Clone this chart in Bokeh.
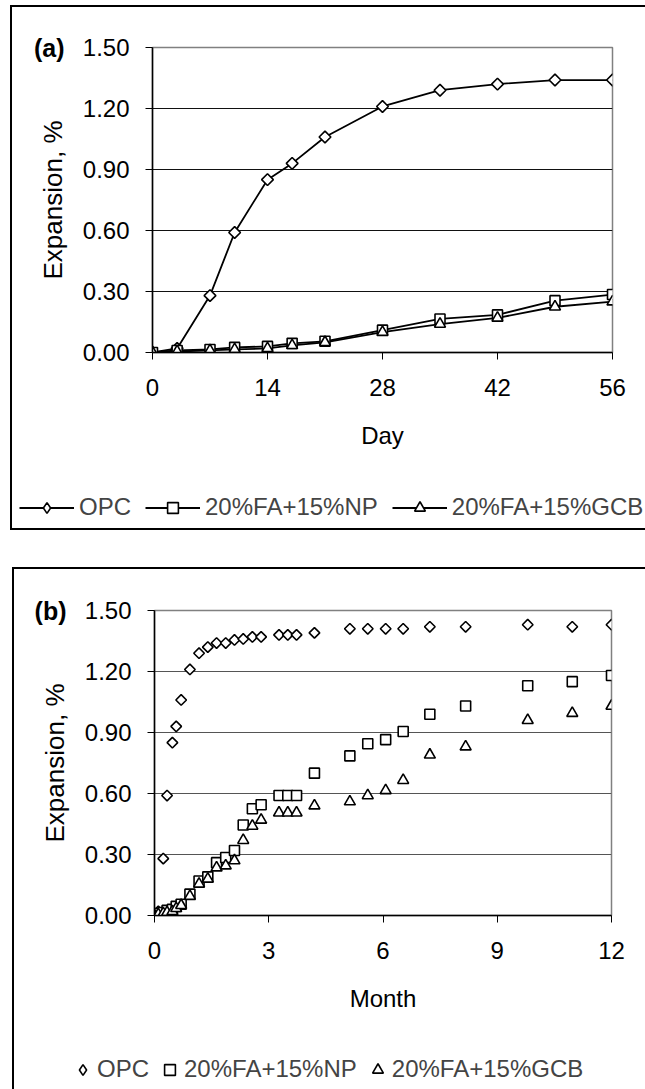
import numpy as np
from bokeh.plotting import figure
from bokeh.models import (Range1d, FixedTicker, NumeralTickFormatter, Legend, LegendItem,
                          LinearAxis)
from bokeh.layouts import column
from bokeh.embed import file_html
from bokeh.resources import INLINE

# ---------------- data ----------------
series_names = ["OPC", "20%FA+15%NP", "20%FA+15%GCB"]
panel_tags = ["(a)", "(b)"]

# Panel (a): expansion vs day
days = [0, 3, 7, 10, 14, 17, 21, 28, 35, 42, 49, 56]
opc_a = [0.00, 0.02, 0.28, 0.59, 0.85, 0.93, 1.06, 1.21, 1.29, 1.32, 1.34, 1.34]
np_a = [0.00, 0.010, 0.015, 0.025, 0.030, 0.045, 0.055, 0.110, 0.165, 0.185, 0.255, 0.285]
gcb_a = [0.00, 0.005, 0.010, 0.015, 0.020, 0.035, 0.050, 0.100, 0.140, 0.170, 0.225, 0.250]

# Panel (b): expansion vs month
months = [0, 0.10, 0.23, 0.33, 0.47, 0.57, 0.70, 0.93, 1.17, 1.40, 1.63, 1.87, 2.10, 2.33,
          2.57, 2.80, 3.27, 3.50, 3.73, 4.20, 5.13, 5.60, 6.07, 6.53, 7.23, 8.17, 9.80,
          10.97, 12.00]
opc_b = [0.00, 0.02, 0.28, 0.59, 0.85, 0.93, 1.06, 1.21, 1.29, 1.32, 1.34, 1.34, 1.355, 1.36,
         1.37, 1.37, 1.38, 1.38, 1.38, 1.39, 1.41, 1.41, 1.41, 1.41, 1.42, 1.42, 1.43,
         1.42, 1.43]
np_b = [0.00, 0.010, 0.015, 0.025, 0.030, 0.045, 0.055, 0.105, 0.170, 0.190, 0.260, 0.285,
        0.320, 0.445, 0.525, 0.545, 0.590, 0.590, 0.590, 0.700, 0.785, 0.845, 0.865, 0.905,
        0.990, 1.030, 1.130, 1.150, 1.180]
gcb_b = [0.00, 0.005, 0.010, 0.015, 0.020, 0.035, 0.050, 0.095, 0.155, 0.180, 0.235, 0.245,
         0.270, 0.370, 0.440, 0.470, 0.505, 0.505, 0.505, 0.540, 0.560, 0.590, 0.615, 0.665,
         0.790, 0.830, 0.960, 0.995, 1.030]

y_ticks = [0, 0.3, 0.6, 0.9, 1.2, 1.5]
x_ticks_a = [0, 14, 28, 42, 56]
x_ticks_b = [0, 3, 6, 9, 12]

FONT = "Liberation Sans"
FS = "24px"


def style(p, xticks, xlabel, grid_color):
    p.xaxis.ticker = FixedTicker(ticks=xticks, minor_ticks=[])
    p.yaxis.ticker = FixedTicker(ticks=y_ticks, minor_ticks=[])
    p.yaxis.formatter = NumeralTickFormatter(format="0.00")
    p.xgrid.visible = False
    p.ygrid.grid_line_color = grid_color
    p.ygrid.grid_line_width = 1
    p.xaxis.axis_label = xlabel
    p.yaxis.axis_label = "Expansion, %"
    for ax in (p.xaxis, p.yaxis):
        ax.axis_line_color = "black"
        ax.axis_line_width = 1.5
        ax.major_tick_line_color = "black"
        ax.major_tick_out = 7
        ax.major_tick_in = 0
        ax.minor_tick_line_color = None
        ax.major_label_text_font = FONT
        ax.major_label_text_font_size = FS
        ax.major_label_text_color = "black"
        ax.axis_label_text_font = FONT
        ax.axis_label_text_font_style = "normal"
        ax.axis_label_text_color = "black"
    p.xaxis.major_label_standoff = 19
    p.yaxis.major_label_standoff = 16
    p.xaxis.axis_label_text_font_size = FS
    p.yaxis.axis_label_text_font_size = "26px"
    p.xaxis.axis_label_standoff = 23
    p.yaxis.axis_label_standoff = 12
    p.outline_line_color = "#808080"
    p.outline_line_width = 1.5
    p.background_fill_color = "white"
    p.border_fill_alpha = 0


def add_tag(p, text, standoff):
    tag = LinearAxis(ticker=FixedTicker(ticks=[1.5], minor_ticks=[]),
                     major_label_overrides={1.5: text},
                     axis_line_color=None, major_tick_line_color=None,
                     minor_tick_line_color=None, major_tick_out=0, major_tick_in=0,
                     major_label_standoff=standoff,
                     major_label_text_font=FONT, major_label_text_font_size="25px",
                     major_label_text_font_style="bold", major_label_text_color="black")
    p.add_layout(tag, "left")


def legend_fig(height, shadow):
    # legend strip: its ranges lie far from the data, so only the legend shows
    f = figure(width=645, height=height, x_range=Range1d(100, 101), y_range=Range1d(100, 101),
               x_axis_location=None, y_axis_location=None, output_backend="svg",
               toolbar_location=None, min_border=0, outline_line_color=None,
               frame_align=False,
               styles={"box-shadow": shadow, "background-color": "white"})
    f.background_fill_alpha = 0
    f.border_fill_alpha = 0
    f.grid.visible = False
    return f


line_kw = dict(line_color="black", line_width=1.8)
mark_kw = dict(line_color="black", line_width=1.6, fill_color="white")

# ---------------- panel (a) ----------------
pa = figure(width=645, height=480, x_range=Range1d(0, 56), y_range=Range1d(0, 1.5),
            output_backend="svg", toolbar_location=None, frame_align=False,
            min_border_left=152, min_border_right=33, min_border_top=47, min_border_bottom=128,
            styles={"box-shadow": "inset 10px 0 0 0 white, inset 0 5px 0 0 white, "
                                  "inset 12px 0 0 0 black, inset 0 7px 0 0 black",
                    "background-color": "white"})
style(pa, x_ticks_a, "Day", "#111111")
add_tag(pa, panel_tags[0], -30)

pa.line(days, opc_a, **line_kw)
pa.line(days, np_a, **line_kw)
pa.line(days, gcb_a, **line_kw)
pa.scatter(days, opc_a, marker="square", angle=np.pi / 4, size=8.3, **mark_kw)
pa.scatter(days, np_a, marker="square", size=10, **mark_kw)
pa.scatter(days, gcb_a, marker="triangle", size=11, **mark_kw)

# legend strip of panel (a)
la = legend_fig(68, "inset 10px 0 0 0 white, inset 0 -18px 0 0 white, "
                    "inset 12px 0 0 0 black, inset 0 -20px 0 0 black")
lr1 = la.line(days, opc_a, **line_kw)
lr2 = la.line(days, np_a, **line_kw)
lr3 = la.line(days, gcb_a, **line_kw)
lm1 = la.scatter(days, opc_a, marker="diamond", **mark_kw)
lm2 = la.scatter(days, np_a, marker="square", **mark_kw)
lm3 = la.scatter(days, gcb_a, marker="triangle", **mark_kw)
leg_a = Legend(items=[LegendItem(label=series_names[0], renderers=[lr1, lm1]),
                      LegendItem(label=series_names[1], renderers=[lr2, lm2]),
                      LegendItem(label=series_names[2], renderers=[lr3, lm3])],
               orientation="horizontal", location=(19, 27),
               glyph_width=55, glyph_height=27, label_height=22, label_standoff=5,
               spacing=14, padding=0, margin=0, border_line_color=None,
               background_fill_alpha=0, label_text_font=FONT, label_text_font_size=FS)
la.add_layout(leg_a)

# ---------------- panel (b) ----------------
pb = figure(width=645, height=480, x_range=Range1d(0, 12), y_range=Range1d(0, 1.5),
            output_backend="svg", toolbar_location=None, frame_align=False,
            min_border_left=154, min_border_right=34, min_border_top=62, min_border_bottom=113,
            styles={"box-shadow": "inset 12px 0 0 0 white, inset 0 19px 0 0 white, "
                                  "inset 14px 0 0 0 black, inset 0 21px 0 0 black",
                    "background-color": "white"})
style(pb, x_ticks_b, "Month", "#555555")
add_tag(pb, panel_tags[1], -30)

pb.scatter(months, opc_b, marker="square", angle=np.pi / 4, size=7.5, **mark_kw)
pb.scatter(months, np_b, marker="square", size=10, **mark_kw)
pb.scatter(months, gcb_b, marker="triangle", size=11, **mark_kw)

# legend strip of panel (b)
lb = legend_fig(61, "inset 12px 0 0 0 white, inset 14px 0 0 0 black")
mb1 = lb.scatter(months, opc_b, marker="diamond", **mark_kw)
mb2 = lb.scatter(months, np_b, marker="square", **mark_kw)
mb3 = lb.scatter(months, gcb_b, marker="triangle", **mark_kw)
leg_b = Legend(items=[LegendItem(label=series_names[0], renderers=[mb1]),
                      LegendItem(label=series_names[1], renderers=[mb2]),
                      LegendItem(label=series_names[2], renderers=[mb3])],
               orientation="horizontal", location=(69, 6),
               glyph_width=27, glyph_height=27, label_height=22, label_standoff=1,
               spacing=7, padding=0, margin=0, border_line_color=None,
               background_fill_alpha=0, label_text_font=FONT, label_text_font_size=FS)
lb.add_layout(leg_b)

layout = column(pa, la, pb, lb, spacing=0)
open("out.html", "w").write(file_html(layout, INLINE))
